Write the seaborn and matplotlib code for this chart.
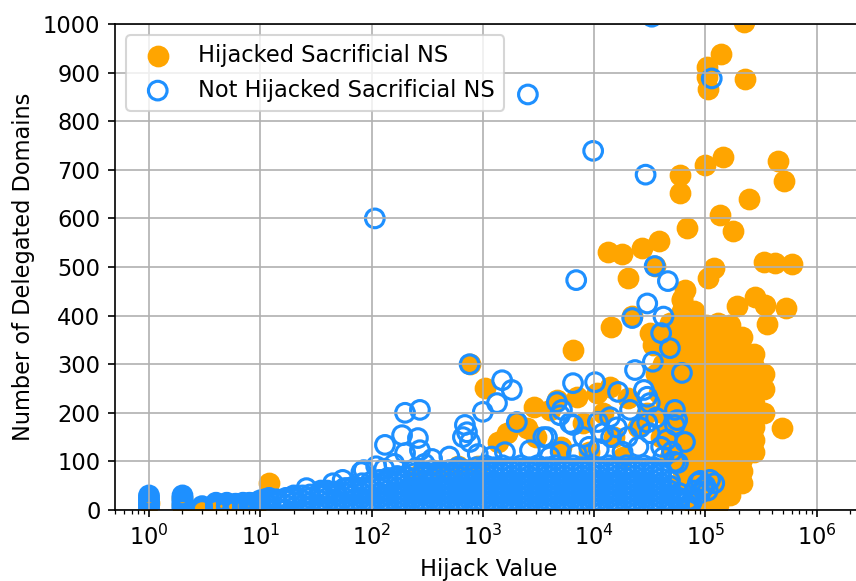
import matplotlib
matplotlib.use("Agg")
import matplotlib.pyplot as plt
import pandas as pd
import seaborn as sns

# ---------------- data ----------------
# Hijacked sacrificial NS: sparse points
hijacked_low = [(1, 15), (2, 10), (2, 25), (3, 3), (4, 2), (5, 4), (6, 3), (7, 5),
                (8, 3), (9, 2), (12, 56), (250, 70), (400, 80), (600, 90), (900, 90)]
hijacked_mid = [(760, 300), (1045, 251), (2900, 212), (2020, 179), (2490, 169),
                (1370, 140), (1650, 158), (4010, 206), (4630, 226), (7000, 233),
                (10600, 241), (13900, 253), (3000, 150), (5000, 130), (8000, 180),
                (12000, 200), (15000, 150), (20000, 230), (25000, 170), (30000, 200),
                (9000, 120), (18000, 110), (40000, 150), (45000, 250), (36000, 280),
                (52000, 300), (44000, 220), (55000, 180), (38000, 240)]
hijacked_high = [(6500, 330), (14200, 377), (13300, 531), (17800, 527), (26900, 539),
                 (38200, 553), (20100, 477), (21900, 400), (31700, 364), (35000, 502),
                 (40700, 364), (33700, 340), (59000, 689), (59000, 652), (68200, 580),
                 (99000, 710), (143600, 726), (448000, 718), (508000, 677), (246000, 640),
                 (135000, 607), (177000, 574), (120000, 498), (105000, 477), (65500, 453),
                 (61500, 432), (63000, 411), (59000, 391), (75700, 350), (336000, 510),
                 (421000, 508), (598000, 506), (192000, 420), (279000, 438), (343000, 422),
                 (529000, 416), (357000, 383), (124000, 377), (156000, 368), (127000, 325),
                 (184000, 329), (264000, 309), (222000, 1005), (138000, 938), (103000, 912),
                 (103000, 891), (105000, 866), (226000, 887), (486000, 168)]
# Hijacked sacrificial NS: the dense block near 1e5 (one list of y per x column)
hijacked_col_x = [42000, 48000, 61500, 78900, 101000, 129500, 166000, 213000, 273000, 336000]
hijacked_col_y = [
    [150, 200, 250, 300],
    [110, 135, 160, 185, 210, 235, 260, 285, 310, 335, 360, 385],
    [60, 85, 110, 135, 160, 185, 210, 235, 260, 285, 310, 335, 360, 385, 410, 435],
    [10, 35, 60, 85, 110, 135, 160, 185, 210, 235, 260, 285, 310, 335, 360, 385, 410],
    [5, 30, 55, 80, 105, 130, 155, 180, 205, 230, 255, 280, 305, 330, 355, 380],
    [10, 35, 60, 85, 110, 135, 160, 185, 210, 235, 260, 285, 310, 335, 360, 385],
    [30, 55, 80, 105, 130, 155, 180, 205, 230, 255, 280, 305, 330, 355, 380],
    [55, 80, 105, 130, 155, 180, 205, 230, 255, 280, 305, 330, 355],
    [120, 145, 170, 195, 220, 245, 270, 295, 320],
    [200, 250, 280],
]

# Not hijacked sacrificial NS: sparse points
not_hijacked_high = [(107, 600), (2540, 855), (9800, 739), (33000, 1015), (29000, 690),
                     (114000, 888), (6900, 473), (35000, 502), (46000, 471), (30000, 425),
                     (22000, 395), (42000, 398), (40000, 364), (48000, 333)]
not_hijacked_mid = [(760, 300), (1490, 267), (1820, 247), (1340, 220), (1000, 202),
                    (6460, 261), (10200, 263), (4630, 222), (5140, 206), (16400, 243),
                    (33700, 305), (23300, 288), (61500, 282), (28000, 247), (30000, 233),
                    (31600, 220), (53200, 206), (53200, 175), (65500, 140), (55700, 185),
                    (53000, 99), (690, 175), (662, 150), (766, 140), (720, 160),
                    (1580, 119), (2650, 123), (3770, 150), (6070, 179), (12000, 158),
                    (13900, 191), (21000, 206), (31600, 158), (42000, 109), (56600, 97),
                    (85700, 56), (110000, 62), (100000, 50), (95000, 45), (90000, 35),
                    (80000, 40), (120000, 55), (105000, 40), (90000, 60),
                    (58000, 20), (75000, 15), (85, 82), (132, 134), (200, 200), (272, 206),
                    (188, 154), (261, 148), (272, 123), (200, 117), (2020, 181),
                    (4930, 195), (3500, 150), (6460, 175), (10800, 181), (14200, 150),
                    (26, 45), (55, 62), (81, 78), (25000, 130), (18000, 120), (9000, 130),
                    (7000, 115), (40000, 130), (45000, 145), (50000, 120), (30000, 180),
                    (36000, 190), (26000, 170), (20000, 150), (16000, 170), (8000, 150),
                    (11000, 125), (5000, 120), (4000, 110), (1200, 110), (900, 115),
                    (500, 110), (350, 105), (300, 95), (160, 95), (130, 85), (110, 90),
                    (45, 55), (60, 45), (35, 40)]
# Not hijacked sacrificial NS: the dense band along the bottom (y list per x column)
y_a = [0, 10, 20, 30, 40, 50, 60, 70, 80, 88]
y_b = [5, 15, 25, 35, 45, 55, 65, 75, 85, 92]
y_c = [5, 15, 25, 35, 45, 55, 65, 75, 82]
y_d = [0, 10, 20, 30, 40, 50, 60, 70, 78]
not_hijacked_col_x = [1, 2, 3, 4, 5, 6, 7, 8, 9, 10, 11, 12,
                      14, 17, 20, 24, 28, 34, 40, 48, 57, 68, 82, 98,
                      118, 140, 170, 200, 240, 290, 350, 420, 500, 600, 720, 870,
                      1050, 1250, 1500, 1800, 2200, 2600, 3100, 3800, 4500, 5400,
                      6500, 7800, 9400, 11000, 13500, 16000, 19500, 23000, 28000,
                      34000, 40000, 48000, 58000, 70000]
not_hijacked_col_y = [
    [0, 5, 10, 15, 20, 25, 30], [0, 5, 10, 15, 20, 25, 30], [0, 5, 8], [0, 5, 10, 15],
    [0, 5, 10, 15], [0, 5, 10, 13], [0, 5, 10, 15], [0, 5, 10, 15], [0, 5, 10, 15],
    [0, 5, 10, 15, 20], [5, 15, 22], [0, 10, 20, 25],
    [5, 15, 22], [0, 10, 20, 25], [5, 15, 25, 30], [0, 10, 20, 30], [5, 15, 25, 32],
    [0, 10, 20, 30, 35], [5, 15, 25, 35, 40], [0, 10, 20, 30, 38], [5, 15, 25, 35, 45],
    [0, 10, 20, 30, 40, 48], [5, 15, 25, 35, 45, 55], [0, 10, 20, 30, 40, 50, 58],
    [5, 15, 25, 35, 45, 55, 62], [0, 10, 20, 30, 40, 50, 60, 66],
    [5, 15, 25, 35, 45, 55, 65, 70], [0, 10, 20, 30, 40, 50, 60, 70],
    y_c, y_d, y_c, y_d, y_c, y_a, y_c, y_a,
    y_b, y_a, y_b, y_a, y_b, y_a, y_b, y_a, y_b, y_a,
    y_b, y_a, y_b, y_a, y_b, y_a, y_b, y_a, y_b,
    y_a, y_c, [0, 10, 20, 30, 40, 50, 60], [5, 15, 25, 35], [0, 10, 20],
]

x_tick_values = [1, 10, 100, 1000, 10000, 100000, 1000000]
y_tick_values = [0, 100, 200, 300, 400, 500, 600, 700, 800, 900, 1000]
label_hijacked = "Hijacked Sacrificial NS"
label_not_hijacked = "Not Hijacked Sacrificial NS"

# ---------------- assemble tables ----------------
def columns_to_pairs(xs, ys):
    return [(x, y) for x, col in zip(xs, ys) for y in col]

hij = pd.DataFrame(hijacked_low + hijacked_mid + hijacked_high
                   + columns_to_pairs(hijacked_col_x, hijacked_col_y),
                   columns=["value", "domains"])
nhij = pd.DataFrame(columns_to_pairs(not_hijacked_col_x, not_hijacked_col_y)
                    + not_hijacked_mid + not_hijacked_high,
                    columns=["value", "domains"])

# ---------------- plot ----------------
plt.rcParams["font.size"] = 10.8
fig = plt.figure(figsize=(856 / 150, 581 / 150), dpi=150)
ax = fig.add_axes([115 / 856, 71 / 581, 748 / 856, 486 / 581])

sns.scatterplot(data=hij, x="value", y="domains", ax=ax, s=80,
                color="orange", edgecolor="orange", linewidth=1.5,
                label=label_hijacked)
sns.scatterplot(data=nhij, x="value", y="domains", ax=ax, s=80,
                facecolors="none", edgecolor="dodgerblue", linewidth=1.5,
                label=label_not_hijacked)

ax.set_xscale("log")
ax.set_xticks(x_tick_values)
ax.set_xlim(0.495, 2.606e6)
ax.set_ylim(0, 1000)
ax.set_yticks(y_tick_values)
ax.set_xlabel("Hijack Value")
ax.set_ylabel("Number of Delegated Domains")
ax.grid(True)
ax.legend(loc="upper left")

fig.savefig("out.png", dpi=150)
